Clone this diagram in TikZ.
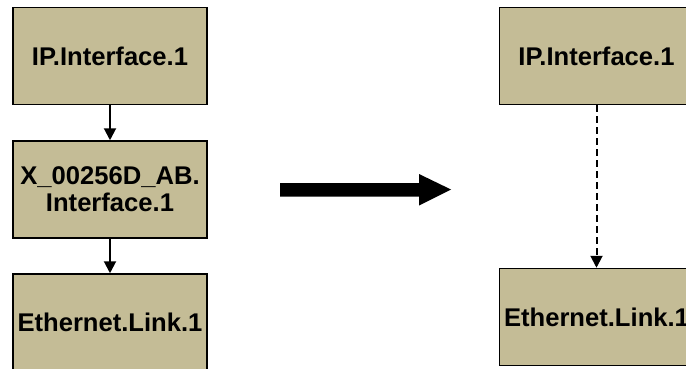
\documentclass[tikz,border=0pt]{standalone}
\usepackage{fontspec}
\setmainfont{Liberation Sans}
\usetikzlibrary{arrows.meta}
\definecolor{boxtan}{RGB}{196,188,150}
\begin{document}
\begin{tikzpicture}[x=1pt,y=-1pt,
  objbox/.style={draw=black,line width=1.5pt,fill=boxtan,minimum width=194pt,minimum height=97pt,
    inner sep=0pt,align=center,font=\fontsize{25.6}{27}\selectfont\bfseries},
  conn/.style={line width=2pt,-{Triangle[width=12pt,length=12pt]}},
  dconn/.style={conn,dash pattern=on 7pt off 4pt}]
\useasboundingbox (0,0) rectangle (686,369);
\node[objbox] (ip1) at (110,56) {IP.Interface.1};
\node[objbox] (x1) at (110,189.5) {X\_00256D\_AB.\\Interface.1};
\node[objbox] (eth1) at (110,322.5) {Ethernet.Link.1};
\node[objbox] (ip2) at (596.5,56) {IP.Interface.1};
\node[objbox] (eth2) at (596.5,317) {Ethernet.Link.1};
\draw[conn] (ip1) -- (x1);
\draw[conn] (x1) -- (eth1);
\draw[dconn] (ip2) -- (eth2);
\coordinate (bs) at (280,189.5);
\coordinate (be) at (451,189.5);
\fill[black] (bs) ++(0,-6.5) -- ++(139,0) -- ++(0,-9) -- (be) -- ++(-32,16) -- ++(0,-9) -- ++(-139,0) -- cycle;
\end{tikzpicture}
\end{document}
